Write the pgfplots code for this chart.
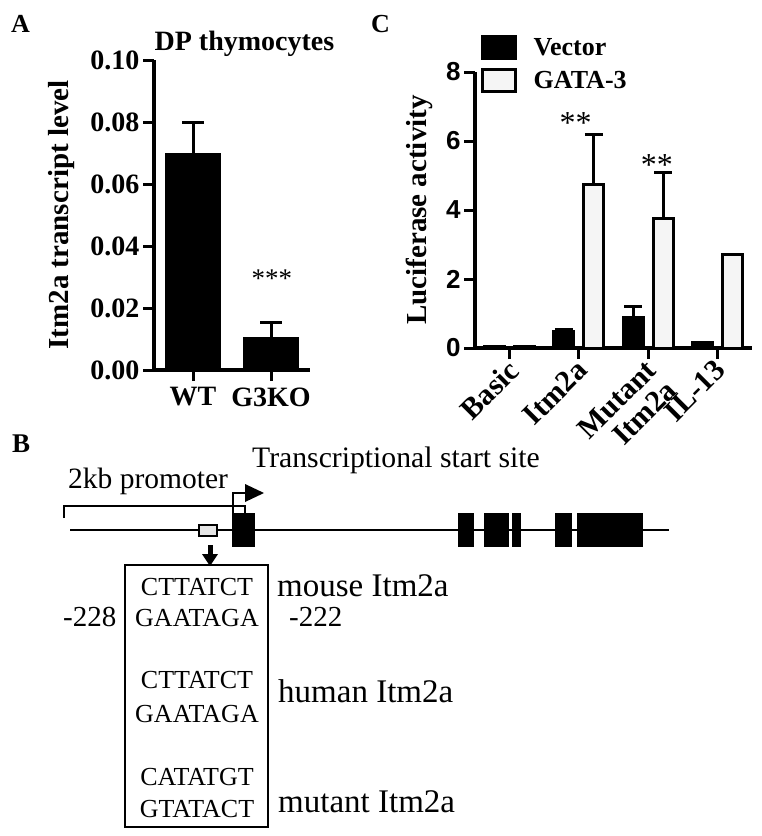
\documentclass[border=0pt]{standalone}
\usepackage{fontspec}
\setmainfont{Liberation Serif}
\newfontfamily\arialfont{Liberation Sans}
\usepackage{pgfplots}
\pgfplotsset{compat=1.18}

\newcommand\fs[1]{\fontsize{#1}{#1}\selectfont}

\begin{document}
\begin{tikzpicture}
\useasboundingbox (0pt,0pt) rectangle (762pt,-836pt);

% ---- panel A
\begin{axis}[
  at={(154pt,-370pt)}, anchor=south west, scale only axis,
  width=156pt, height=310pt,
  xmin=-0.5, xmax=1.5, ymin=0, ymax=0.1,
  axis x line*=bottom, axis y line*=left,
  axis line style={line width=3.5pt},
  xtick={0,1}, xticklabels={WT,G3KO},
  xticklabel style={yshift=-3pt},
  ytick={0,0.02,0.04,0.06,0.08,0.1},
  yticklabels={0.00,0.02,0.04,0.06,0.08,0.10},
  tick align=outside, major tick length=11pt,
  tick style={line width=3pt, black},
  ticklabel style={font=\fs{28}\bfseries},
  /pgf/number format/assume math mode=true,
  ylabel={Itm2a transcript level},
  ylabel style={font=\fs{29}\bfseries, at={(axis description cs:-0.59,0.5)}, anchor=center},
  title={DP thymocytes},
  every axis title shift=0pt,
  title style={font=\fs{28}\bfseries, at={(axis description cs:0.58,1.032)}, anchor=base},
  ybar, bar width=55pt, clip=false,
]
\addplot[fill=black, draw=black,
  error bars/.cd, y dir=plus, y explicit,
  error bar style={line width=3pt},
  error mark options={rotate=90, mark size=11pt, line width=3pt}]
  coordinates {(0,0.070) +- (0,0.010) (1,0.0106) +- (0,0.0046)};
\node[font=\fs{27}, anchor=base] at (axis cs:1.01,0.0265) {***};
\end{axis}

% ---- panel C
\begin{axis}[
  at={(475pt,-348pt)}, anchor=south west, scale only axis,
  width=277pt, height=276pt,
  xmin=-0.507, xmax=3.507, ymin=0, ymax=8,
  axis x line*=bottom, axis y line*=left,
  axis line style={line width=3.5pt},
  xtick={0,1,2,3}, xticklabels={Basic,Itm2a,{Mutant\\Itm2a},IL-13},
  xticklabel style={font=\fontsize{30}{29}\selectfont\bfseries, inner sep=0pt,
    xshift=-4pt, yshift=1pt, rotate=45, anchor=north east, align=right},
  ytick={0,2,4,6,8},
  yticklabel style={font=\fs{26}\arialfont\bfseries},
  /pgf/number format/assume math mode=true,
  tick align=outside, major tick length=11pt,
  tick style={line width=3pt, black},
  ylabel={Luciferase activity},
  ylabel style={font=\fs{29}\bfseries, at={(axis description cs:-0.2,0.5)}, anchor=center},
  ybar=10pt, bar width=20pt, clip=false,
  legend style={draw=none, fill=none, at={(axis description cs:0.02,1.134)}, anchor=north west,
    font=\fs{26}\bfseries, row sep=7.5pt, inner sep=0pt},
  legend cell align=left,
]
\addplot[fill=black, draw=black, line width=3pt,
  legend image code/.code={\draw[line width=3pt, fill=black] (0pt,-11pt) rectangle (33pt,11pt); \path (48pt,0pt);},
  error bars/.cd, y dir=plus, y explicit,
  error bar style={line width=3pt},
  error mark options={rotate=90, mark size=9pt, line width=3pt}]
  coordinates {(0,0.03) +- (0,0) (1,0.48) +- (0,0.07) (2,0.89) +- (0,0.32) (3,0.15) +- (0,0)};
\addlegendentry{Vector}
\addplot[fill=black!4, draw=black, line width=3pt,
  legend image code/.code={\draw[line width=3pt, fill=black!4] (0pt,-11pt) rectangle (33pt,11pt); \path (48pt,0pt);},
  error bars/.cd, y dir=plus, y explicit,
  error bar style={line width=3pt},
  error mark options={rotate=90, mark size=9pt, line width=3pt}]
  coordinates {(0,0.05) +- (0,0) (1,4.73) +- (0,1.45) (2,3.74) +- (0,1.35) (3,2.70) +- (0,0)};
\addlegendentry{GATA-3}
\node[font=\fs{32}, anchor=base] at (axis cs:0.95,6.23) {**};
\node[font=\fs{32}, anchor=base] at (axis cs:2.13,5.01) {**};
\end{axis}

% ---- panel letters and panel B (image pixel coordinates)
\begin{scope}[x=1pt,y=-1pt]
\node[font=\fs{26}\bfseries, anchor=base west, inner sep=0pt] at (11,32) {A};
\node[font=\fs{26}\bfseries, anchor=base west, inner sep=0pt] at (371,32) {C};
\node[font=\fs{27}\bfseries, anchor=base west, inner sep=0pt] at (12,452) {B};

\node[font=\fs{29.7}, anchor=base west, inner sep=0pt] at (252,467) {Transcriptional start site};
\node[font=\fs{29.5}, anchor=base west, inner sep=0pt] at (68,488) {2kb promoter};
\draw[line width=2pt] (64,518) -- (64,506) -- (245,506) -- (245,513);
\draw[line width=2pt] (233,513) -- (233,493) -- (247,493);
\fill (245,484) -- (264,493) -- (245,502) -- cycle;
\draw[line width=2.5pt] (70,530) -- (669,530);
\draw[line width=1.5pt, fill=black!10] (199,525) rectangle (217,536);
\fill (232,513) rectangle (255,547);
\foreach \a/\b in {458/474,484/509,512/521,555/572,577/643}
  \fill (\a,513) rectangle (\b,547);
\draw[line width=5pt] (210,545) -- (210,556);
\fill (202,554) -- (218,554) -- (210,566) -- cycle;
\draw[line width=2pt] (125,565) rectangle (268,827);

\begin{scope}[every node/.style={font=\fs{26}, anchor=base, inner sep=0pt}]
\node at (197,595) {CTTATCT};
\node at (197,626) {GAATAGA};
\node at (197,688) {CTTATCT};
\node at (197,722) {GAATAGA};
\node at (197,785) {CATATGT};
\node at (197,817) {GTATACT};
\end{scope}
\begin{scope}[every node/.style={font=\fs{33}, anchor=base west, inner sep=0pt}]
\node at (277,596) {mouse Itm2a};
\node at (278,702) {human Itm2a};
\node at (278,812) {mutant Itm2a};
\node[font=\fs{29}] at (63,626) {-228};
\node[font=\fs{29}] at (289,626) {-222};
\end{scope}
\end{scope}
\end{tikzpicture}
\end{document}
